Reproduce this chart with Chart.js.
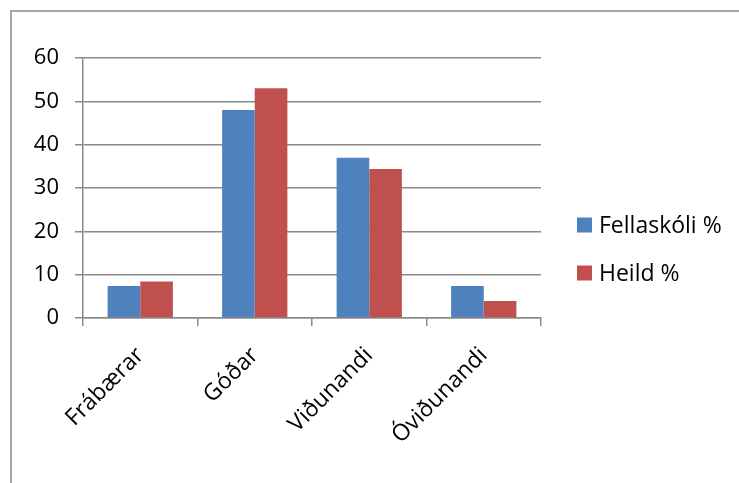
<!DOCTYPE html>
<html>
<head>
<meta charset="utf-8">
<script src="https://cdn.jsdelivr.net/npm/chart.js@4/dist/chart.umd.min.js"></script>
<style>
  html, body { margin: 0; padding: 0; background: #fff; }
  #wrap { width: 739px; height: 483px; position: relative; }
</style>
</head>
<body>
<div id="wrap"><canvas id="chart"></canvas></div>
<script>
// chart values
const categories = ['Frábærar', 'Góðar', 'Viðunandi', 'Óviðunandi'];
const fellaskoli = [7.4, 48, 37, 7.4];
const heild = [8.4, 53, 34.4, 3.9];
const seriesNames = ['Fellaskóli %', 'Heild %'];
const yTicks = [0, 10, 20, 30, 40, 50, 60];

const FONT = 'Open Sans';
const GREY = '#8a8a8a';

// outer frame plus a hand-drawn legend on the right
const framePlugin = {
    id: 'frame',
    beforeDraw(chart) {
        const ctx = chart.ctx;
        ctx.save();
        ctx.fillStyle = '#fff';
        ctx.fillRect(0, 0, chart.width, chart.height);
        ctx.strokeStyle = GREY;
        ctx.lineWidth = 1.5;
        ctx.beginPath();
        ctx.moveTo(11, chart.height + 2);
        ctx.lineTo(11, 11);
        ctx.lineTo(chart.width + 2, 11);
        ctx.stroke();
        ctx.restore();
    },
    afterDraw(chart) {
        const ctx = chart.ctx;
        ctx.save();
        ctx.font = '23px "' + FONT + '"';
        ctx.textBaseline = 'middle';
        chart.data.datasets.forEach((ds, i) => {
            const y = 225 + i * 48;
            ctx.fillStyle = ds.backgroundColor;
            ctx.fillRect(577, y - 7.5, 15, 15);
            ctx.fillStyle = '#000';
            ctx.fillText(ds.label, 599, y + 1);
        });
        ctx.restore();
    }
};

new Chart(document.getElementById('chart'), {
    type: 'bar',
    data: {
        labels: categories,
        datasets: [
            { label: seriesNames[0], data: fellaskoli, backgroundColor: '#4F81BD' },
            { label: seriesNames[1], data: heild, backgroundColor: '#C0504D' }
        ]
    },
    options: {
        responsive: true,
        maintainAspectRatio: false,
        animation: false,
        layout: { padding: { top: 58, right: 198, left: 0, bottom: 0 } },
        datasets: {
            bar: { categoryPercentage: 0.57, barPercentage: 1.0 }
        },
        plugins: {
            legend: { display: false },
            tooltip: { enabled: false }
        },
        scales: {
            x: {
                afterFit: scale => { scale.height = 165; },
                grid: {
                    offset: true,
                    drawOnChartArea: false,
                    drawTicks: true,
                    tickLength: 8,
                    color: GREY,
                    lineWidth: 1.5
                },
                border: { color: GREY, width: 1.5 },
                ticks: {
                    minRotation: 45,
                    maxRotation: 45,
                    padding: 16,
                    color: '#000',
                    font: { family: FONT, size: 23 }
                }
            },
            y: {
                min: 0,
                max: 60,
                afterFit: scale => { scale.width = 83; },
                afterBuildTicks: scale => { scale.ticks = yTicks.map(v => ({ value: v })); },
                grid: {
                    color: GREY,
                    lineWidth: 1.5,
                    tickLength: 8
                },
                border: { color: GREY, width: 1.5 },
                ticks: {
                    padding: 16,
                    color: '#000',
                    font: { family: FONT, size: 22 }
                }
            }
        }
    },
    plugins: [framePlugin]
});
</script>
</body>
</html>
